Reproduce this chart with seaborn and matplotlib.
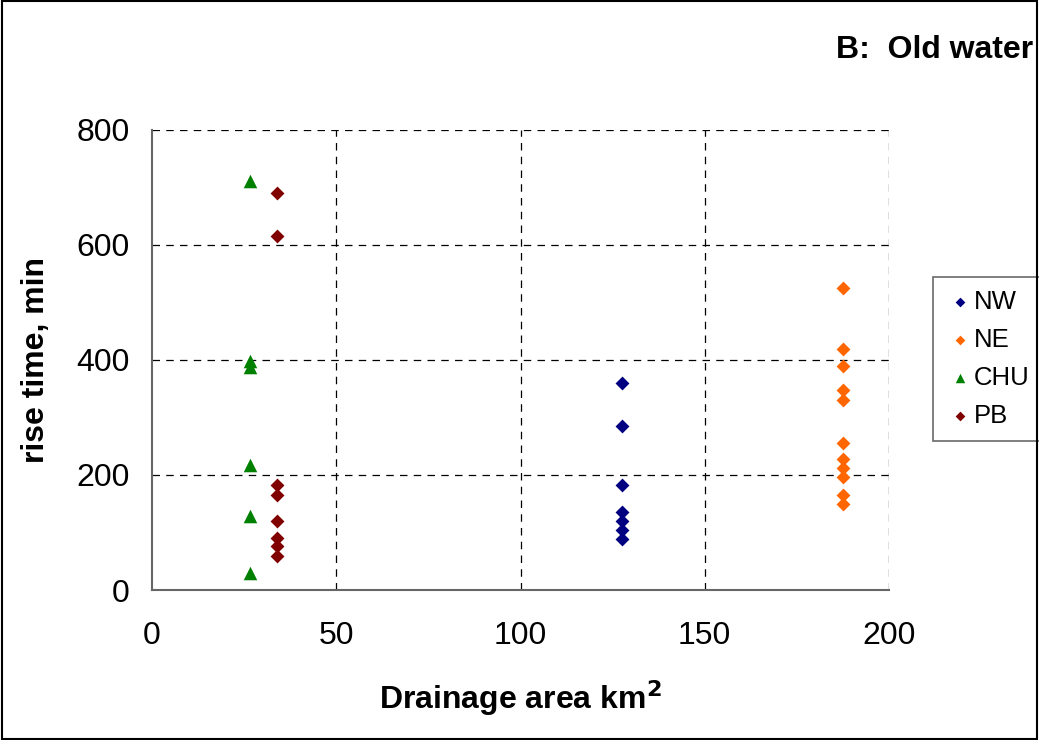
import numpy as np
import pandas as pd
import matplotlib
matplotlib.use("Agg")
import matplotlib.pyplot as plt
import seaborn as sns

# Drainage area (km^2) of each catchment
area_nw = 127.5
area_ne = 187.5
area_chu = 26.5
area_pb = 34.0

# Rise time (min) of old-water component per event
rise_nw = [360, 286, 182, 135, 120, 104, 89]
rise_ne = [526, 420, 390, 347, 330, 256, 228, 212, 197, 166, 149]
rise_chu = [712, 398, 388, 217, 128, 30]
rise_pb = [690, 616, 182, 165, 120, 90, 76, 60]

series = ["NW", "NE", "CHU", "PB"]
colors = {"NW": "#000080", "NE": "#FF6600", "CHU": "#008000", "PB": "#800000"}
markers = {"NW": "D", "NE": "D", "CHU": "^", "PB": "D"}
msize = {"NW": 50, "NE": 50, "CHU": 95, "PB": 50}

df = pd.concat([
    pd.DataFrame({"area": area_nw, "rise": rise_nw, "site": "NW"}),
    pd.DataFrame({"area": area_ne, "rise": rise_ne, "site": "NE"}),
    pd.DataFrame({"area": area_chu, "rise": rise_chu, "site": "CHU"}),
    pd.DataFrame({"area": area_pb, "rise": rise_pb, "site": "PB"}),
], ignore_index=True)

sns.set_style("white")
plt.rcParams["font.family"] = ["Liberation Sans", "DejaVu Sans"]
plt.rcParams["text.color"] = "black"
plt.rcParams["axes.labelcolor"] = "black"
plt.rcParams["xtick.color"] = "black"
plt.rcParams["ytick.color"] = "black"

fig = plt.figure(figsize=(10.39, 7.40), dpi=100)
ax = fig.add_axes([152 / 1039, 1 - 590 / 740, (889 - 152) / 1039, (590 - 130) / 740])

for name in series:
    sub = df[df["site"] == name]
    sns.scatterplot(data=sub, x="area", y="rise", color=colors[name],
                    marker=markers[name], s=msize[name], linewidth=0,
                    ax=ax, label=name, zorder=3)

ax.set_xlim(0, 200)
ax.set_ylim(0, 800)
ax.set_xticks([0, 50, 100, 150, 200])
ax.set_yticks([0, 200, 400, 600, 800])
ax.tick_params(axis="both", labelsize=23, length=6, width=1, color="#555555",
               direction="out")
ax.tick_params(axis="y", pad=10)
ax.tick_params(axis="x", pad=16)

for x in [50, 100, 150, 200]:
    ax.axvline(x, color="black", lw=0.9, ls=(0, (6, 5)), zorder=1)
for y in [200, 400, 600, 800]:
    ax.axhline(y, color="black", lw=0.9, ls=(0, (6, 5)), zorder=1)

for side in ["top", "right"]:
    ax.spines[side].set_visible(False)
for side in ["left", "bottom"]:
    ax.spines[side].set_color("#666666")
    ax.spines[side].set_linewidth(1.5)

ax.set_xlabel("Drainage area km$^\\mathbf{2}$", fontsize=23, fontweight="bold", labelpad=20)
ax.set_ylabel("rise time, min", fontsize=23, fontweight="bold", labelpad=18)

handles, labels = ax.get_legend_handles_labels()
leg = ax.legend(handles, labels, loc="upper left", bbox_to_anchor=(933 / 1039, 1 - 277 / 740),
                bbox_transform=fig.transFigure, fontsize=18.5, frameon=True, fancybox=False,
                edgecolor="#444444", borderpad=0.5, handletextpad=0.0, labelspacing=0.55,
                markerscale=0.7, handlelength=1.1, borderaxespad=0)
leg.get_frame().set_linewidth(1.2)

fig.text(1033 / 1039, 1 - 50 / 740, "B:  Old water", ha="right", va="center",
         fontsize=23, fontweight="bold")

# Outer chart border
fig.patches.append(plt.Rectangle((0.002, 0.002), 0.996, 0.996, transform=fig.transFigure,
                                 fill=False, edgecolor="black", lw=1.5))

fig.savefig("out.png", dpi=100, facecolor="white")
